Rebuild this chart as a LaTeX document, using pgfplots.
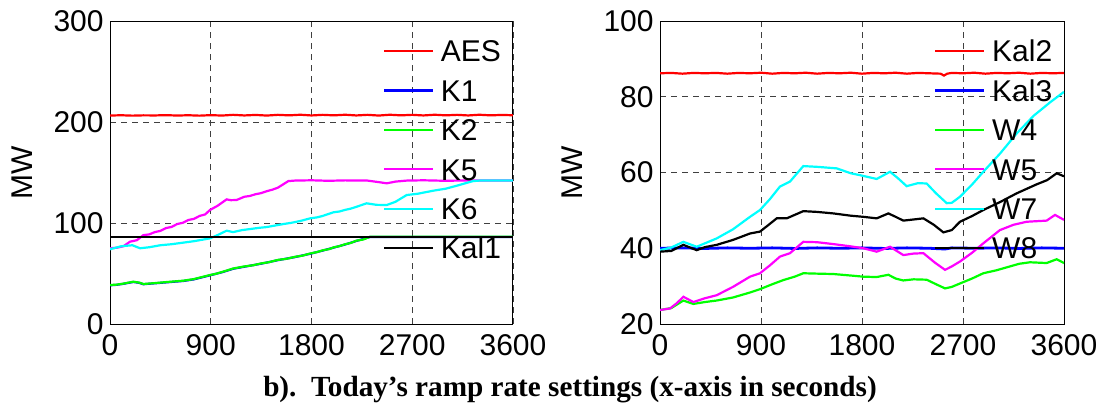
\documentclass[border=0pt]{standalone}
\usepackage{pgfplots}
\pgfplotsset{compat=1.18}
\usepackage{fontspec}
\setmainfont{Liberation Sans}
\newfontfamily\capfont{Liberation Serif}
\definecolor{mred}{RGB}{255,0,0}
\definecolor{mblue}{RGB}{0,0,255}
\definecolor{mgreen}{RGB}{0,255,0}
\definecolor{mmag}{RGB}{255,0,255}
\definecolor{mcyan}{RGB}{0,255,255}
\pgfplotsset{
  mystyle/.style={
    scale only axis, anchor=south west,
    height=151.5pt,
    xmin=0, xmax=3600,
    xtick={0,900,1800,2700,3600},
    scaled x ticks=false, scaled y ticks=false,
    /pgf/number format/1000 sep={},
    /pgf/number format/assume math mode=true,
    tick label style={font=\fontsize{15}{18}\selectfont},
    xticklabel style={inner sep=5pt},
    yticklabel style={inner xsep=3pt},
    major tick length=0pt,
    grid=major,
    major grid style={black!75, line width=0.45pt, dash pattern=on 3pt off 2.5pt},
    axis line style={line width=0.5pt},
    ylabel={MW},
    ylabel style={font=\fontsize{15}{18}\selectfont, at={(rel axis cs:0,0.5)}, anchor=center, yshift=44pt},
    legend cell align=left,
    legend image code/.code={\draw[#1] (0pt,0pt) -- (24.5pt,0pt);},
    legend style={draw=none, fill=none, inner sep=0pt, at={(rel axis cs:0.6767,0.9373)}, anchor=north west,
      font=\fontsize{15}{18}\selectfont, row sep=8.95pt, column sep=3.3pt,
      nodes={inner sep=0pt, text height=10.75pt, text depth=0pt}},
    every axis plot/.append style={line width=1.1pt},
  }
}
\begin{document}
\begin{tikzpicture}[x=1pt,y=1pt]
\path[use as bounding box] (0,0) rectangle (551,202);
\begin{axis}[mystyle, at={(55pt,40pt)}, width=201.5pt, ymin=0, ymax=300, ytick={0,100,200,300}]
\addplot[mred] coordinates {(0,206.4)(100,206.7)(200,206.3)(300,206.6)(400,206.5)(500,206.8)(600,206.4)(700,206.7)(800,206.3)(900,206.8)(1000,206.4)(1100,207.1)(1200,206.5)(1300,207.0)(1400,206.4)(1500,207.1)(1600,206.6)(1700,207.2)(1800,206.5)(1900,207.1)(2000,206.6)(2100,207.2)(2200,206.5)(2300,207.1)(2400,206.4)(2500,207.2)(2600,206.6)(2700,207.1)(2800,206.5)(2900,207.2)(3000,206.6)(3100,207.1)(3200,206.5)(3300,207.2)(3400,206.6)(3500,207.0)(3600,206.7)};
\addlegendentry{AES}
\addplot[mblue] coordinates {(0,38.3)(60,38.8)(120,39.8)(208,41.6)(260,40.8)(298,39.4)(400,40.3)(500,41.2)(655,42.6)(750,44.2)(893,48.2)(1000,51.2)(1101,54.7)(1200,56.7)(1350,59.7)(1500,63.2)(1650,66.2)(1787,69.5)(1900,72.7)(2000,75.7)(2100,78.7)(2200,82.2)(2323,86.2)(2400,86.2)(3600,86.2)};
\addlegendentry{K1}
\addplot[mgreen] coordinates {(0,38.6)(60,39)(120,40)(208,41.9)(260,41)(298,39.6)(400,40.5)(500,41.5)(655,42.9)(750,44.5)(893,48.5)(950,49.8)(1000,51.5)(1050,53.2)(1101,55)(1200,57)(1280,58.2)(1350,60)(1420,61.2)(1500,63.5)(1580,64.6)(1650,66.5)(1720,67.7)(1787,69.8)(1850,71.2)(1900,73)(1960,74.2)(2000,76)(2050,77.1)(2100,79)(2150,80.2)(2200,82.5)(2260,83.6)(2323,86.4)(2400,86.4)(3600,86.4)};
\addlegendentry{K2}
\addplot[mmag] coordinates {(0,75)(60,75.5)(120,77)(179,81.5)(240,83)(298,88)(350,88.7)(400,91)(450,92.2)(500,95)(550,96.1)(600,99)(650,100.2)(700,103)(750,104.1)(800,107)(850,108.5)(893,112.9)(960,117)(1042,123.4)(1080,122.6)(1131,122.8)(1200,126)(1250,126.8)(1300,128.5)(1350,129.6)(1400,131.5)(1450,133)(1500,135)(1593,141.5)(1650,142)(1800,142.3)(1950,141.8)(2100,142.2)(2300,142)(2400,140.5)(2472,139.3)(2550,141)(2650,142)(2800,142.3)(3000,141.8)(3200,142.2)(3400,142)(3600,142)};
\addlegendentry{K5}
\addplot[mcyan] coordinates {(0,74)(100,77)(200,78)(268,75)(350,76)(450,78)(550,79)(650,80.5)(750,82)(893,84.8)(960,88)(1042,92.4)(1100,91)(1180,93)(1250,94)(1330,95.2)(1400,96)(1480,97.6)(1550,99)(1620,100.2)(1700,102)(1787,104.6)(1850,105.6)(1900,107)(1995,110.6)(2050,111.4)(2100,113)(2150,114.2)(2200,116)(2293,119.5)(2380,118)(2472,117.8)(2550,121)(2650,127.7)(2750,129)(2888,132)(3000,134)(3100,137)(3243,141.5)(3300,142)(3600,142)};
\addlegendentry{K6}
\addplot[black] coordinates {(0,86.4)(3600,86.4)};
\addlegendentry{Kal1}
\end{axis}
\begin{axis}[mystyle, at={(330pt,40pt)}, width=202pt, ymin=20, ymax=100, ytick={20,40,60,80,100}]
\addplot[mred] coordinates {(0,86.2)(100,86.3)(200,86.1)(300,86.3)(400,86.2)(500,86.3)(600,86.1)(700,86.3)(800,86.2)(900,86.35)(1000,86.1)(1100,86.3)(1200,86.2)(1300,86.35)(1400,86.1)(1500,86.3)(1600,86.2)(1700,86.35)(1800,86.1)(1900,86.3)(2000,86.2)(2100,86.35)(2200,86.1)(2300,86.3)(2400,86.2)(2500,86.1)(2530,85.6)(2560,86.1)(2600,86.3)(2700,86.2)(2800,86.35)(2900,86.1)(3000,86.3)(3100,86.2)(3200,86.35)(3300,86.1)(3400,86.3)(3500,86.2)(3600,86.3)};
\addlegendentry{Kal2}
\addplot[mblue, line width=1.4pt] coordinates {(0,40.0)(200,40.1)(400,39.95)(600,40.1)(800,40.0)(1000,40.1)(1200,39.95)(1400,40.1)(1600,40.0)(1800,40.1)(2000,39.95)(2200,40.1)(2400,40.0)(2540,39.8)(2600,40.1)(2800,40.0)(3000,40.1)(3200,39.95)(3400,40.1)(3600,40.0)};
\addlegendentry{Kal3}
\addplot[mgreen] coordinates {(0,23.7)(100,24.2)(208,26.2)(297,25.3)(400,25.8)(505,26.2)(650,27)(800,28.3)(891,29.2)(1000,30.5)(1099,31.6)(1200,32.5)(1277,33.4)(1400,33.3)(1545,33.2)(1700,32.8)(1812,32.5)(1930,32.4)(2035,33)(2100,32)(2168,31.5)(2260,31.8)(2376,31.7)(2460,30.5)(2540,29.4)(2600,29.8)(2673,30.7)(2780,32)(2881,33.4)(3000,34.2)(3118,35.2)(3200,35.9)(3297,36.3)(3445,36.1)(3535,37.1)(3600,36.1)};
\addlegendentry{W4}
\addplot[mmag] coordinates {(0,23.7)(89,24.1)(150,25.5)(208,27.2)(297,25.8)(400,26.8)(505,27.6)(650,29.8)(802,32.5)(891,33.4)(980,35.5)(1069,37.8)(1158,38.7)(1277,41.7)(1400,41.6)(1545,41.1)(1700,40.5)(1812,40)(1931,39.1)(2050,40.4)(2168,38.2)(2260,38.6)(2347,38.7)(2450,36.2)(2540,34.3)(2600,35.2)(2673,36.5)(2780,38.8)(2881,41.3)(3029,44.8)(3150,46.2)(3267,47)(3445,47.3)(3520,48.8)(3600,47.5)};
\addlegendentry{W5}
\addplot[mcyan] coordinates {(0,39.5)(100,40.2)(208,41.7)(327,40.4)(400,41.3)(505,42.6)(650,45)(802,48.3)(891,50.1)(980,53)(1069,56.3)(1158,57.6)(1277,61.7)(1400,61.5)(1574,61.1)(1700,59.8)(1782,59.3)(1931,58.3)(2050,60.2)(2120,58.5)(2198,56.4)(2300,57.2)(2376,57.1)(2460,54.5)(2555,51.9)(2600,52)(2673,53.6)(2780,56.8)(2881,60.2)(3030,65)(3178,70.3)(3330,75)(3475,78.5)(3600,81.3)};
\addlegendentry{W7}
\addplot[black] coordinates {(0,39.1)(100,39.3)(208,40.9)(327,39.5)(400,40.3)(505,40.9)(650,42.2)(802,43.9)(891,44.4)(960,46)(1040,47.9)(1129,47.9)(1277,49.8)(1400,49.6)(1545,49.2)(1700,48.6)(1812,48.3)(1931,47.9)(2035,49.2)(2100,48.3)(2168,47.3)(2260,47.6)(2347,47.9)(2440,46.2)(2525,44.2)(2600,44.8)(2673,47)(2780,48.5)(2881,50.1)(3030,52.2)(3178,54.5)(3350,56.8)(3450,58)(3535,59.8)(3600,59.0)};
\addlegendentry{W8}
\end{axis}
\node[anchor=base, font=\capfont\bfseries\fontsize{14.6}{17}\selectfont] at (285pt,3.65pt) {b).\ \ Today’s ramp rate settings (x-axis in seconds)};
\end{tikzpicture}
\end{document}
